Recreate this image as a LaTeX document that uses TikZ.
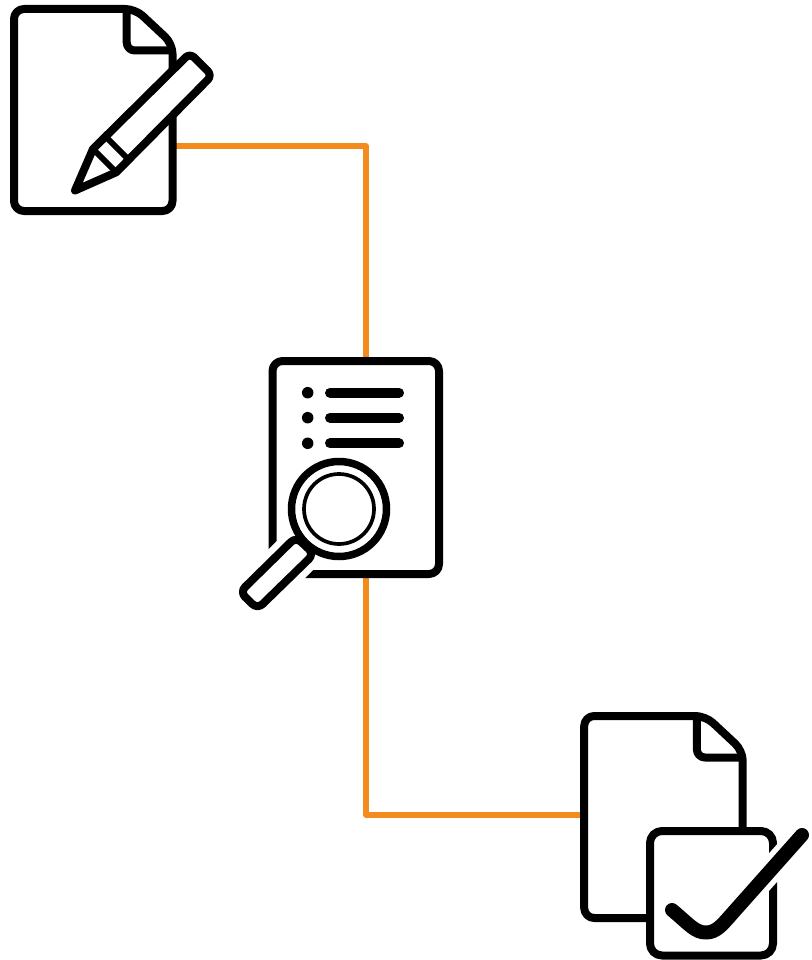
\documentclass[tikz,border=0pt]{standalone}
\usepackage{amsmath, amssymb}
\usepackage[rgb,table]{xcolor}
\usetikzlibrary{calc}
\definecolor{linkorange}{HTML}{F28C1E}
\tikzset{>=latex}
\tikzset{iconline/.style={line width=8pt, line join=round, draw=black}}
\tikzset{link/.style={line width=5.5pt, draw=linkorange, line join=round}}
\tikzset{iconframe/.style={inner sep=0pt, outer sep=0pt}}
\tikzset{pagebox/.style={iconline, fill=white, rounded corners=10pt, inner sep=0pt, outer sep=.5\pgflinewidth}}
\tikzset{bulletdot/.style={circle, fill=black, inner sep=0pt, minimum size=11.5pt}}
\tikzset{textbar/.style={line width=10pt, line cap=round}}
% sheet with a folded corner, origin at the top left
\tikzset{foldedsheet/.pic={
    \draw[iconline, fill=white, rounded corners=10pt] (0,0) -- (121.3,0) -- (158.5,34.7) -- (158.5,202) -- (0,202) -- cycle;
    \draw[iconline, rounded corners=8pt] (112.7,0) -- (112.7,41.5) -- (158.5,41.5);
}}
\begin{document}
\begin{tikzpicture}[x=1pt, y=-1pt]
  \useasboundingbox (0,0) rectangle (811,960);
  \node[iconframe, minimum width=166pt, minimum height=210pt] (draft) at (93,110) {};
  \node[iconframe, minimum width=166.5pt, minimum height=210.5pt] (signed) at (663.25,817.25) {};
  \node[iconframe, minimum width=174.5pt, minimum height=221pt] (review) at (355.75,467.5) {};

  \draw[link] ([yshift=-36pt]draft.east) -| ([xshift=10.25pt]review.north);
  \draw[link] ([xshift=10.25pt]review.south) |- ([yshift=2.25pt]signed.west);

  % pencil
  \pic at (14,9) {foldedsheet};
  \draw[iconline, fill=white] (75,190.5) -- (93,149) [rounded corners=6pt] -- (189.85,53.15) -- (212.1,75.4) [sharp corners] -- (116.25,172.25) -- cycle;
  \draw[line width=6pt] (93,149) -- (116.25,172.25);
  \draw[line width=6pt] (106,137) -- (128.25,159.25);

  % list page
  \node[pagebox, minimum width=166.5pt, minimum height=213pt] (reviewpage) at (review) {};
  \foreach \rowy/\barname in {392.7/a,417.7/b,443.3/c} {
    \node[bulletdot] (dot\barname) at (307.7,\rowy) {};
    \draw[textbar] (330,\rowy) -- (399,\rowy);
  }

  % magnifier
  \draw[white, line width=46pt, line cap=butt] (305,545.5) -- (248.5,602);
  \draw[iconline, fill=white, rounded corners=7pt] (296,537) -- (240,592) -- (257.5,609) -- (314,554) -- cycle;
  \node[circle, draw=black, line width=7.5pt, fill=white, inner sep=0pt, minimum size=95pt] (lens) at (339,509) {};
  \node[circle, draw=black, line width=3.7pt, inner sep=0pt, minimum size=70pt] (glass) at (lens) {};

  % sheet and tick box
  \pic at (584.2,716) {foldedsheet};
  \node[pagebox, rounded corners=12pt, minimum width=123pt, minimum height=124.5pt] (tickbox) at (711.5,893.25) {};
  \draw[white, line width=25pt, line cap=round] (730,916) -- (802,835);
  \draw[line width=14pt, line cap=round, line join=round] (672,910) .. controls (690,925) and (695,932.5) .. (706,932.5) .. controls (716,932.5) and (722,925) .. (730,916) -- (802,835);
\end{tikzpicture}
\end{document}
